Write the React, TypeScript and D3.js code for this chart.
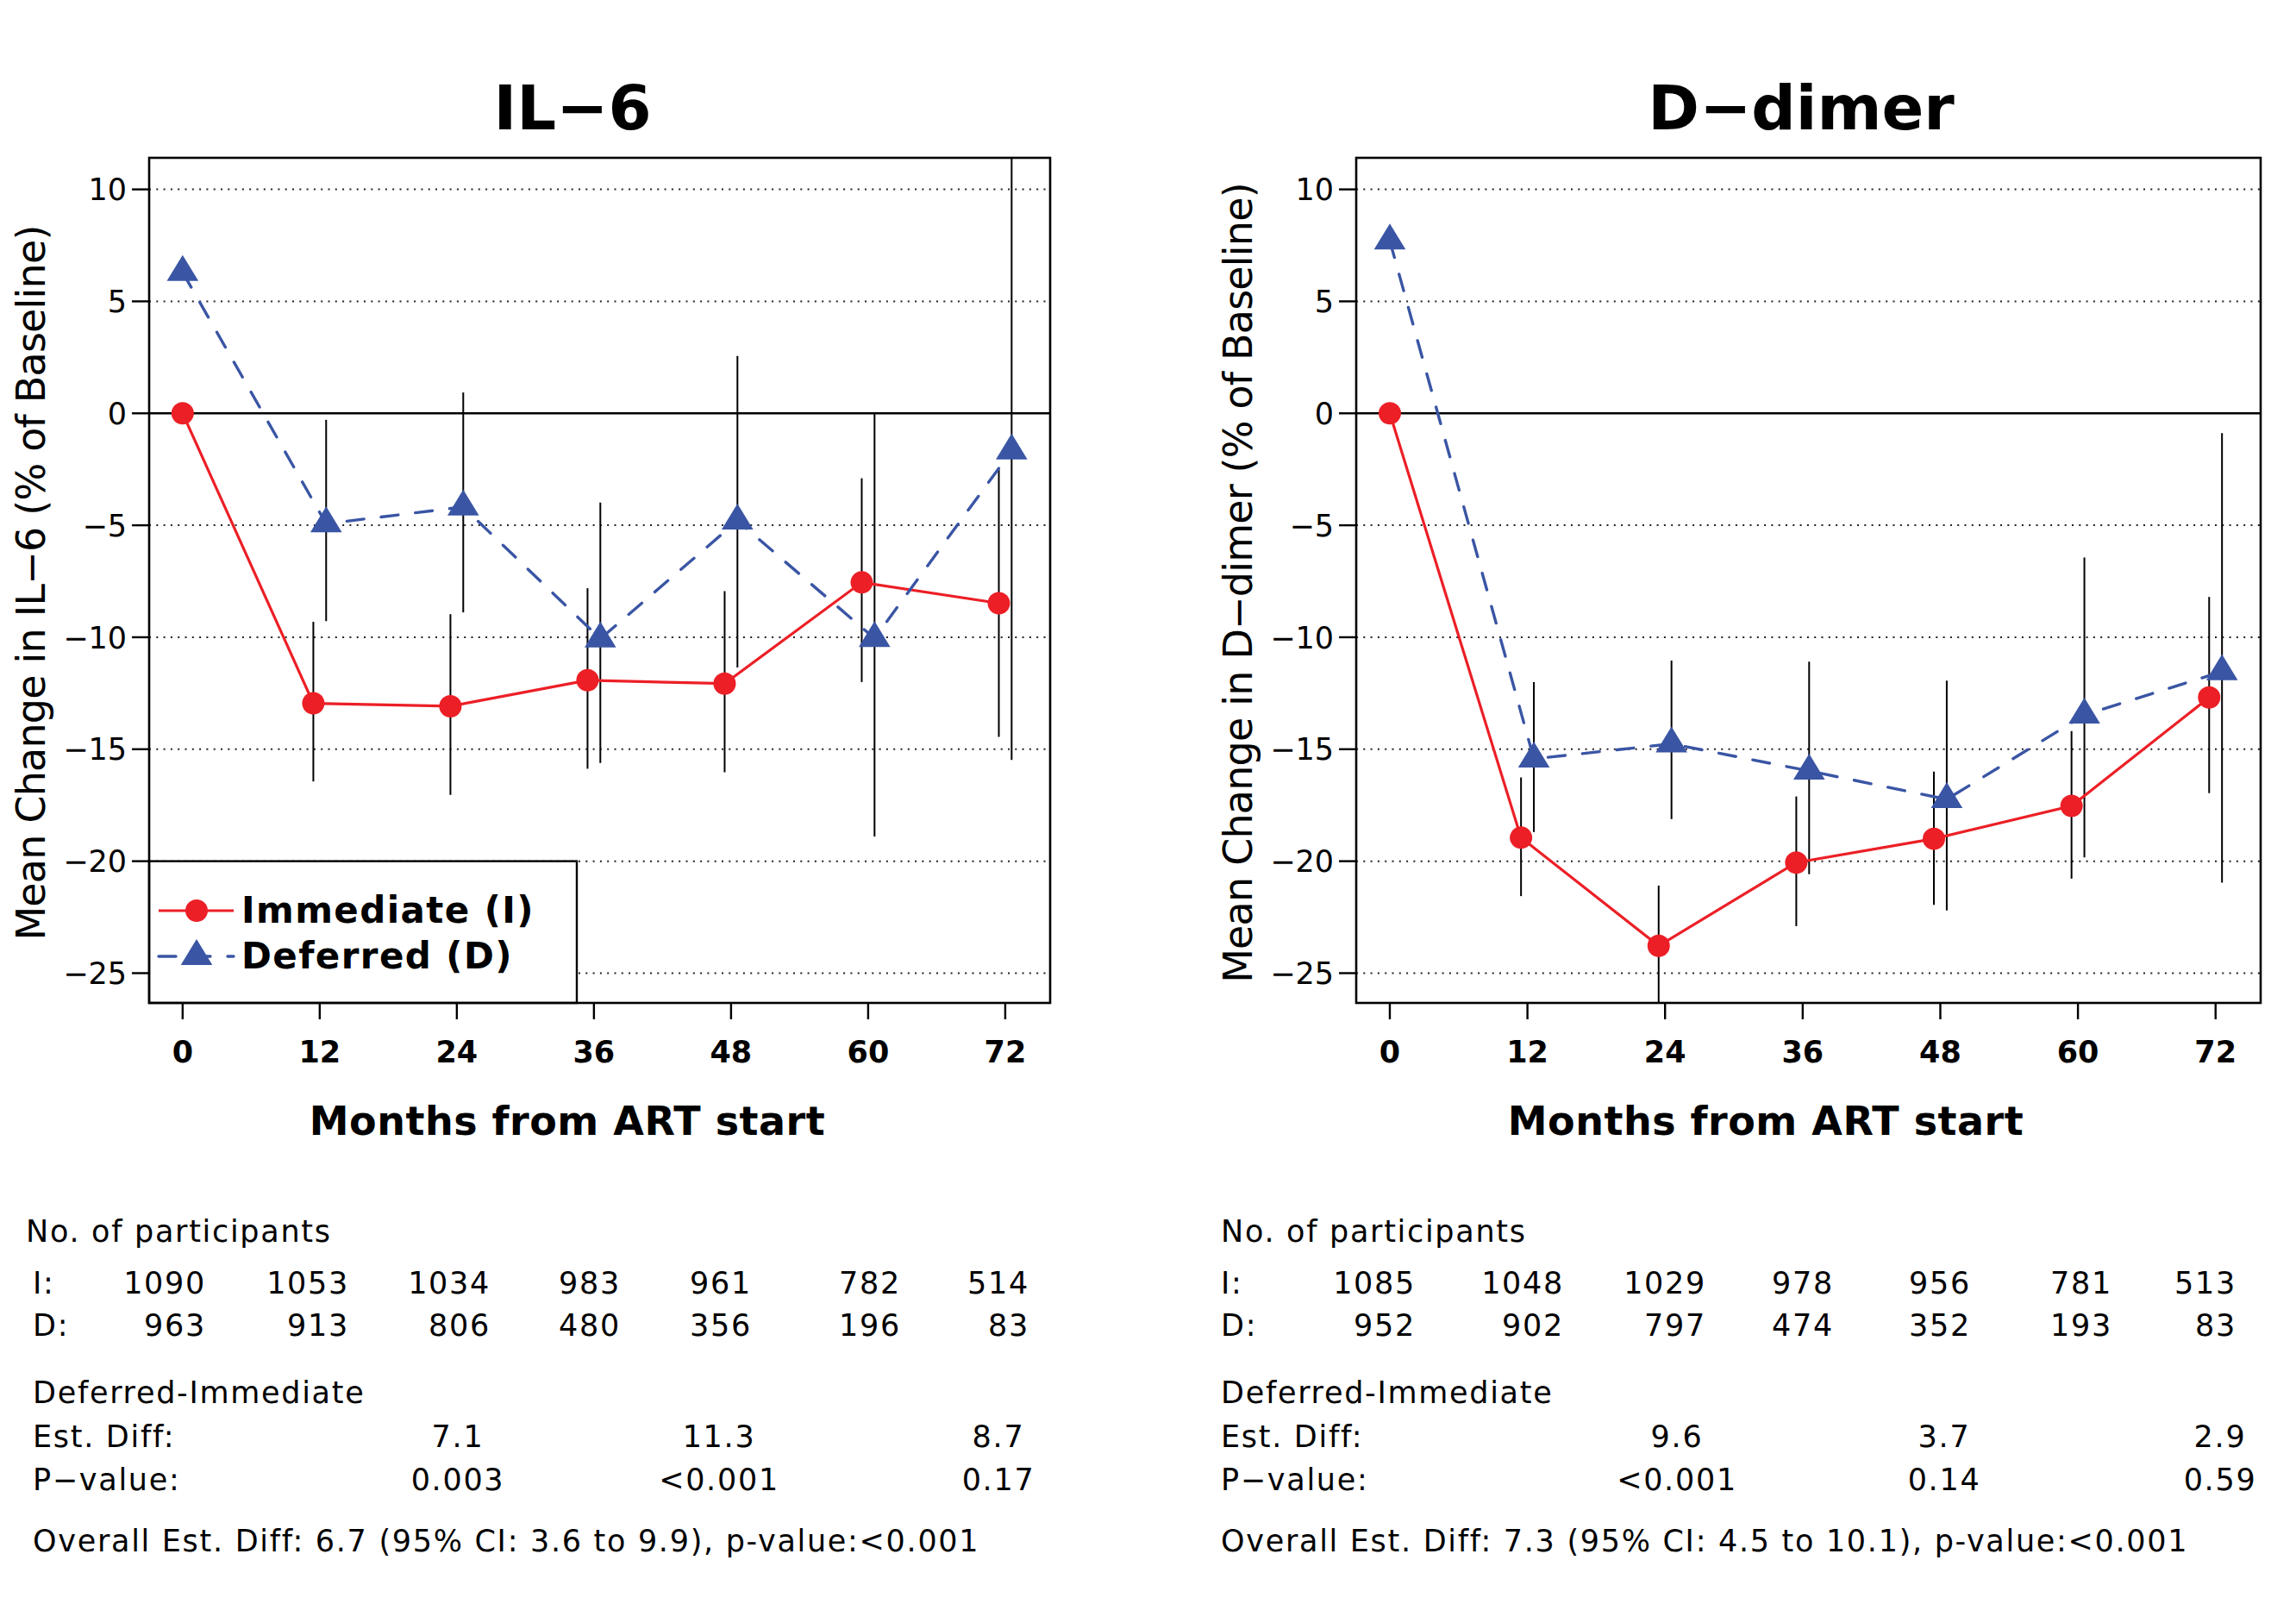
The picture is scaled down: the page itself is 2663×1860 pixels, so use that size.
import React from "react";
import * as d3 from "d3";

// months from ART start
const months = [0, 12, 24, 36, 48, 60, 72];
const yTicks = [10, 5, 0, -5, -10, -15, -20, -25];

// IL-6, mean change (% of baseline) and 95% CI
const il6Imm = [0, -12.95, -13.08, -11.92, -12.07, -7.55, -8.48];
const il6ImmLo = [null, -16.44, -17.04, -15.87, -16.03, -12.0, -14.45];
const il6ImmHi = [null, -9.31, -8.97, -7.81, -7.94, -2.9, -2.51];
const il6Def = [6.3, -4.93, -4.18, -10.07, -4.8, -10.05, -1.67];
const il6DefLo = [null, -9.28, -8.89, -15.61, -11.35, -18.9, -15.48];
const il6DefHi = [null, -0.29, 0.93, -3.98, 2.56, 0.0, 12.4];

// D-dimer
const ddImm = [0, -18.95, -23.78, -20.06, -19.0, -17.53, -12.69];
const ddImmLo = [null, -21.56, -26.6, -22.9, -21.95, -20.78, -16.96];
const ddImmHi = [null, -16.26, -21.09, -17.11, -16.0, -14.19, -8.2];
const ddDef = [7.7, -15.43, -14.76, -15.97, -17.24, -13.47, -11.53];
const ddDefLo = [null, -18.7, -18.12, -20.58, -22.2, -19.83, -20.96];
const ddDefHi = [null, -12.0, -11.04, -11.09, -11.94, -6.44, -0.88];

// participants and group differences
const il6CountI = ["1090", "1053", "1034", "983", "961", "782", "514"];
const il6CountD = ["963", "913", "806", "480", "356", "196", "83"];
const il6EstDiff = ["7.1", "11.3", "8.7"];
const il6PValue = ["0.003", "<0.001", "0.17"];
const il6Overall = "Overall Est. Diff: 6.7 (95% CI: 3.6 to 9.9), p-value:<0.001";

const ddCountI = ["1085", "1048", "1029", "978", "956", "781", "513"];
const ddCountD = ["952", "902", "797", "474", "352", "193", "83"];
const ddEstDiff = ["9.6", "3.7", "2.9"];
const ddPValue = ["<0.001", "0.14", "0.59"];
const ddOverall = "Overall Est. Diff: 7.3 (95% CI: 4.5 to 10.1), p-value:<0.001";

const RED = "#ec1f26";
const BLUE = "#3a55a4";
const FONT = "'DejaVu Sans', Verdana, sans-serif";

const TOP = 183;
const BOTTOM = 1163;
const DODGE = 0.56; // months offset between groups
const tableRows = [1440, 1500, 1549, 1627, 1678, 1728, 1799];

const triangle = (cx, cy, s = 1) =>
  `M${cx},${cy - 20 * s}L${cx + 18.3 * s},${cy + 10 * s}L${cx - 18.3 * s},${cy + 10 * s}Z`;

const Panel = ({
  id, title, titleX, xTitleX, yLabel, yLabelX, left, right,
  imm, immLo, immHi, def, defLo, defHi, legend,
  countI, countD, estDiff, pValue, overall, labelX, noX, countCols, diffCols,
}) => {
  const x = d3.scaleLinear().domain([-2.93, 75.93]).range([left, right]);
  const y = d3.scaleLinear().domain([-26.33, 11.41]).range([BOTTOM, TOP]);
  const xi = (i) => x(months[i] - (i === 0 ? 0 : DODGE));
  const xd = (i) => x(months[i] + (i === 0 ? 0 : DODGE));
  const line = d3.line();
  const immPath = line(imm.map((v, i) => [xi(i), y(v)]));
  const defPath = line(def.map((v, i) => [xd(i), y(v)]));
  const midY = (TOP + BOTTOM) / 2 + 3;

  return (
    <g fontFamily={FONT}>
      <defs>
        <clipPath id={id}>
          <rect x={left} y={TOP} width={right - left} height={BOTTOM - TOP} />
        </clipPath>
      </defs>
      <text x={titleX} y={150} fontSize={72} fontWeight="bold" textAnchor="middle">
        {title}
      </text>

      {/* grid */}
      {yTicks.map((t) => (
        <line
          key={t}
          x1={left}
          x2={right}
          y1={y(t)}
          y2={y(t)}
          stroke={t === 0 ? "#000" : "#222"}
          strokeWidth={t === 0 ? 2.4 : 2}
          strokeDasharray={t === 0 ? null : "2,6.3"}
        />
      ))}

      {/* y axis */}
      {yTicks.map((t) => (
        <g key={"yt" + t}>
          <line x1={left - 20} x2={left} y1={y(t)} y2={y(t)} stroke="#000" strokeWidth={2.4} />
          <text x={left - 26} y={y(t)} dy="0.36em" fontSize={35} textAnchor="end">
            {t < 0 ? "\u2212" + Math.abs(t) : t}
          </text>
        </g>
      ))}
      <text
        transform={`translate(${yLabelX},${midY}) rotate(-90)`}
        fontSize={46}
        letterSpacing={-0.8}
        textAnchor="middle"
      >
        {yLabel}
      </text>

      {/* x axis */}
      {months.map((m) => (
        <g key={"xt" + m}>
          <line x1={x(m)} x2={x(m)} y1={BOTTOM} y2={BOTTOM + 19} stroke="#000" strokeWidth={2.4} />
          <text x={x(m)} y={1232} fontSize={35} fontWeight="bold" textAnchor="middle">
            {m}
          </text>
        </g>
      ))}
      <text x={xTitleX} y={1316} fontSize={46} fontWeight="bold" letterSpacing={0.5} textAnchor="middle">
        Months from ART start
      </text>

      {/* confidence intervals */}
      <g clipPath={`url(#${id})`} stroke="#000" strokeWidth={2}>
        {immLo.map((lo, i) =>
          lo === null ? null : (
            <line key={"ci" + i} x1={xi(i)} x2={xi(i)} y1={y(lo)} y2={y(immHi[i])} />
          )
        )}
        {defLo.map((lo, i) =>
          lo === null ? null : (
            <line key={"cd" + i} x1={xd(i)} x2={xd(i)} y1={y(lo)} y2={y(defHi[i])} />
          )
        )}
      </g>

      {/* series */}
      <path d={immPath} fill="none" stroke={RED} strokeWidth={3.2} />
      <path
        d={defPath}
        fill="none"
        stroke={BLUE}
        strokeWidth={3.4}
        strokeDasharray="20,20"
        strokeLinecap="round"
      />
      {imm.map((v, i) => (
        <circle key={"pi" + i} cx={xi(i)} cy={y(v)} r={13} fill={RED} />
      ))}
      {def.map((v, i) => (
        <path key={"pd" + i} d={triangle(xd(i), y(v))} fill={BLUE} />
      ))}

      {legend && (
        <g>
          <rect x={left} y={y(-20)} width={496} height={BOTTOM - y(-20)} fill="#fff" stroke="#000" strokeWidth={2.4} />
          <line x1={184} x2={271} y1={1056} y2={1056} stroke={RED} strokeWidth={3.2} />
          <circle cx={228} cy={1056} r={13} fill={RED} />
          <line x1={184} x2={271} y1={1109} y2={1109} stroke={BLUE} strokeWidth={3.4} strokeDasharray="20,20" strokeLinecap="round" />
          <path d={triangle(228, 1109)} fill={BLUE} />
          <text x={280} y={1070} fontSize={42} fontWeight="bold" letterSpacing={1.4}>
            Immediate (I)
          </text>
          <text x={280} y={1123} fontSize={42} fontWeight="bold" letterSpacing={1.4}>
            Deferred (D)
          </text>
        </g>
      )}

      {/* table */}
      <g fontSize={35} letterSpacing={1.7}>
        <text x={noX} y={tableRows[0]}>No. of participants</text>
        <text x={labelX} y={tableRows[1]}>I:</text>
        <text x={labelX} y={tableRows[2]}>D:</text>
        {countI.map((c, i) => (
          <text key={"ni" + i} x={countCols[i]} y={tableRows[1]} textAnchor="end">{c}</text>
        ))}
        {countD.map((c, i) => (
          <text key={"nd" + i} x={countCols[i]} y={tableRows[2]} textAnchor="end">{c}</text>
        ))}
        <text x={labelX} y={tableRows[3]}>Deferred-Immediate</text>
        <text x={labelX} y={tableRows[4]}>Est. Diff:</text>
        <text x={labelX} y={tableRows[5]}>P{"\u2212"}value:</text>
        {estDiff.map((c, i) => (
          <text key={"ed" + i} x={diffCols[i]} y={tableRows[4]} textAnchor="middle">{c}</text>
        ))}
        {pValue.map((c, i) => (
          <text key={"pv" + i} x={diffCols[i]} y={tableRows[5]} textAnchor="middle">{c}</text>
        ))}
        <text x={labelX} y={tableRows[6]}>{overall}</text>
      </g>

      {/* frame */}
      <rect x={left} y={TOP} width={right - left} height={BOTTOM - TOP} fill="none" stroke="#000" strokeWidth={2.6} />
    </g>
  );
};

export default function App() {
  return (
    <svg
      width={2663}
      height={1860}
      style={{ position: "absolute", left: 0, top: 0, background: "#fff" }}
    >
      <rect width={2663} height={1860} fill="#fff" />
      <Panel
        id="clipL"
        title={"IL\u22126"}
        titleX={664}
        xTitleX={658}
        yLabel={"Mean Change in IL\u22126 (% of Baseline)"}
        yLabelX={52}
        left={173}
        right={1218}
        imm={il6Imm}
        immLo={il6ImmLo}
        immHi={il6ImmHi}
        def={il6Def}
        defLo={il6DefLo}
        defHi={il6DefHi}
        legend={true}
        countI={il6CountI}
        countD={il6CountD}
        estDiff={il6EstDiff}
        pValue={il6PValue}
        overall={il6Overall}
        labelX={38}
        noX={30}
        countCols={[239, 405, 569, 720, 872, 1045, 1194]}
        diffCols={[531, 834, 1158]}
      />
      <Panel
        id="clipR"
        title={"D\u2212dimer"}
        titleX={2089}
        xTitleX={2048}
        yLabel={"Mean Change in D\u2212dimer (% of Baseline)"}
        yLabelX={1452}
        left={1573}
        right={2622}
        imm={ddImm}
        immLo={ddImmLo}
        immHi={ddImmHi}
        def={ddDef}
        defLo={ddDefLo}
        defHi={ddDefHi}
        legend={false}
        countI={ddCountI}
        countD={ddCountD}
        estDiff={ddEstDiff}
        pValue={ddPValue}
        overall={ddOverall}
        labelX={1416}
        noX={1416}
        countCols={[1642, 1814, 1979, 2127, 2286, 2450, 2594]}
        diffCols={[1945, 2255, 2575]}
      />
    </svg>
  );
}
